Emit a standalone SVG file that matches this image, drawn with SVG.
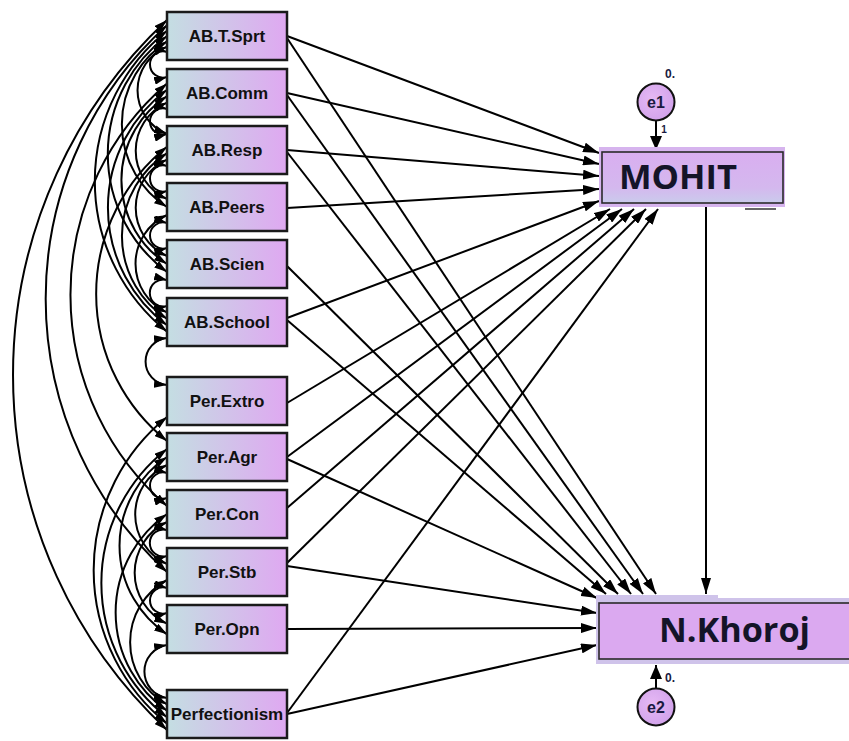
<svg xmlns="http://www.w3.org/2000/svg" width="849" height="741" viewBox="0 0 849 741">
<style>
.box{fill:url(#bg);stroke:#1a1a1a;stroke-width:2.5}
.lbl{font-family:"Liberation Sans",Arial,sans-serif;font-weight:bold;font-size:17px;fill:#111;text-anchor:middle}
.big{font-family:"Open Sans","Noto Sans",sans-serif;font-weight:bold;font-size:34px;fill:#141428}
.sm{font-family:"Liberation Sans",Arial,sans-serif;font-weight:bold;fill:#1a1a40}
.reg{stroke:#000;stroke-width:2;fill:none;marker-end:url(#ah)}
.cov{stroke:#000;stroke-width:2;fill:none;marker-start:url(#ahc);marker-end:url(#ahc)}
.err{fill:url(#eg);stroke:#111;stroke-width:2}
</style>
<defs>
<linearGradient id="bg" x1="0" y1="0" x2="1" y2="0"><stop offset="0" stop-color="#c4dee2"/><stop offset="1" stop-color="#dfa8f1"/></linearGradient>
<linearGradient id="mg" x1="0" y1="0" x2="0" y2="1"><stop offset="0" stop-color="#d9aef0"/><stop offset="0.7" stop-color="#d4b8ee"/><stop offset="1" stop-color="#cacbec"/></linearGradient>
<radialGradient id="eg" cx="0.4" cy="0.4" r="0.7"><stop offset="0" stop-color="#e6b8f4"/><stop offset="1" stop-color="#cfa0ea"/></radialGradient>
<marker id="ah" viewBox="0 0 16 10" refX="16" refY="5" markerWidth="16" markerHeight="10" markerUnits="userSpaceOnUse" orient="auto-start-reverse"><path d="M0,0 L16,5 L0,10 z" fill="#000"/></marker>
<marker id="ahc" viewBox="0 0 13 8" refX="13" refY="4" markerWidth="13" markerHeight="8" markerUnits="userSpaceOnUse" orient="auto-start-reverse"><path d="M0,0 L13,4 L0,8 z" fill="#000"/></marker>
<marker id="ahe" viewBox="0 0 14 12" refX="14" refY="6" markerWidth="14" markerHeight="12" markerUnits="userSpaceOnUse" orient="auto-start-reverse"><path d="M0,0 L14,6 L0,12 z" fill="#000"/></marker>
</defs>
<rect width="849" height="741" fill="#fff"/>

<g id="connectors">
<!-- covariances -->
<path class="cov" d="M167,52 A13.1,13.1 0 1 0 167,77"/>
<path class="cov" d="M167,46.7 A47.06,47.06 0 0 0 167,134"/>
<path class="cov" d="M167,41.3 A98.6,98.6 0 0 0 167,207"/>
<path class="cov" d="M167,36 A147.2,147.2 0 0 0 167,272"/>
<path class="cov" d="M167,30.7 A192.9,192.9 0 0 0 167,331.6"/>
<path class="cov" d="M167,25.3 A368.6,368.6 0 0 0 167,572"/>
<path class="cov" d="M167,20 A486.2,486.2 0 0 0 167,730"/>
<path class="cov" d="M167,109 A13.1,13.1 0 1 0 167,134"/>
<path class="cov" d="M167,102.6 A52.78,52.78 0 0 0 167,199"/>
<path class="cov" d="M167,96.2 A100,100 0 0 0 167,264"/>
<path class="cov" d="M167,89.8 A146.8,146.8 0 0 0 167,325.2"/>
<path class="cov" d="M167,83.4 A279.5,279.5 0 0 0 167,506"/>
<path class="cov" d="M167,166 A13.1,13.1 0 1 0 167,191"/>
<path class="cov" d="M167,159.6 A52.78,52.78 0 0 0 167,256"/>
<path class="cov" d="M167,153.2 A98.6,98.6 0 0 0 167,318.8"/>
<path class="cov" d="M167,146.8 A188.15,188.15 0 0 0 167,441"/>
<path class="cov" d="M167,223 A13.1,13.1 0 1 0 167,248"/>
<path class="cov" d="M167,215 A53.41,53.41 0 0 0 167,312.4"/>
<path class="cov" d="M167,280 A13.51,13.51 0 1 0 167,306"/>
<path class="cov" d="M167,338 A23.6,23.6 0 0 0 167,385"/>
<path class="cov" d="M167,417 A196.9,196.9 0 0 0 167,723.6"/>
<path class="cov" d="M167,473 A13.1,13.1 0 1 0 167,498"/>
<path class="cov" d="M167,465 A54.43,54.43 0 0 0 167,564"/>
<path class="cov" d="M167,457 A106.5,106.5 0 0 0 167,634.3"/>
<path class="cov" d="M167,449 A169.8,169.8 0 0 0 167,717.2"/>
<path class="cov" d="M167,530 A13.51,13.51 0 1 0 167,556"/>
<path class="cov" d="M167,522 A56.15,56.15 0 0 0 167,623.7"/>
<path class="cov" d="M167,514 A119.94,119.94 0 0 0 167,710.8"/>
<path class="cov" d="M167,588 A13.1,13.1 0 1 0 167,613"/>
<path class="cov" d="M167,580 A70.9,70.9 0 0 0 167,704.4"/>
<path class="cov" d="M167,645 A26.84,26.84 0 0 0 167,698"/>
<!-- paths to MOHIT -->
<line class="reg" x1="287" y1="36" x2="599" y2="153"/>
<line class="reg" x1="287" y1="93" x2="599" y2="164"/>
<line class="reg" x1="287" y1="150" x2="599" y2="176"/>
<line class="reg" x1="287" y1="208" x2="599" y2="189"/>
<line class="reg" x1="287" y1="318" x2="599" y2="201"/>
<line class="reg" x1="287" y1="403" x2="610" y2="209"/>
<line class="reg" x1="287" y1="457" x2="622" y2="209"/>
<line class="reg" x1="287" y1="508" x2="634" y2="209"/>
<line class="reg" x1="287" y1="563" x2="646" y2="209"/>
<line class="reg" x1="287" y1="713" x2="658" y2="209"/>
<!-- paths to N.Khoroj -->
<line class="reg" x1="287" y1="38" x2="656" y2="594"/>
<line class="reg" x1="287" y1="95" x2="643" y2="594"/>
<line class="reg" x1="287" y1="152" x2="631" y2="594"/>
<line class="reg" x1="287" y1="266" x2="618" y2="594"/>
<line class="reg" x1="287" y1="320" x2="606" y2="594"/>
<line class="reg" x1="287" y1="459" x2="597" y2="598"/>
<line class="reg" x1="287" y1="566" x2="597" y2="613"/>
<line class="reg" x1="287" y1="629" x2="597" y2="628"/>
<line class="reg" x1="287" y1="714" x2="597" y2="645"/>
<line class="reg" x1="706" y1="207" x2="706" y2="594"/>
<line stroke="#000" stroke-width="2" marker-end="url(#ahe)" x1="656" y1="121" x2="656" y2="150"/>
<line stroke="#000" stroke-width="2" marker-end="url(#ahe)" x1="656" y1="688" x2="656" y2="665"/>
</g>

<g id="AB.T.Sprt"><rect class="box" x="167" y="12" width="120" height="48"/><text class="lbl" x="227" y="42">AB.T.Sprt</text></g>
<g id="AB.Comm"><rect class="box" x="167" y="69" width="120" height="48"/><text class="lbl" x="227" y="99">AB.Comm</text></g>
<g id="AB.Resp"><rect class="box" x="167" y="126" width="120" height="48"/><text class="lbl" x="227" y="156">AB.Resp</text></g>
<g id="AB.Peers"><rect class="box" x="167" y="183" width="120" height="48"/><text class="lbl" x="227" y="213">AB.Peers</text></g>
<g id="AB.Scien"><rect class="box" x="167" y="240" width="120" height="48"/><text class="lbl" x="227" y="270">AB.Scien</text></g>
<g id="AB.School"><rect class="box" x="167" y="298" width="120" height="48"/><text class="lbl" x="227" y="328">AB.School</text></g>
<g id="Per.Extro"><rect class="box" x="167" y="377" width="120" height="48"/><text class="lbl" x="227" y="407">Per.Extro</text></g>
<g id="Per.Agr"><rect class="box" x="167" y="433" width="120" height="48"/><text class="lbl" x="227" y="463">Per.Agr</text></g>
<g id="Per.Con"><rect class="box" x="167" y="490" width="120" height="48"/><text class="lbl" x="227" y="520">Per.Con</text></g>
<g id="Per.Stb"><rect class="box" x="167" y="548" width="120" height="48"/><text class="lbl" x="227" y="578">Per.Stb</text></g>
<g id="Per.Opn"><rect class="box" x="167" y="605" width="120" height="48"/><text class="lbl" x="227" y="635">Per.Opn</text></g>
<g id="Perfectionism"><rect class="box" x="167" y="690" width="120" height="48"/><text class="lbl" x="227" y="720">Perfectionism</text></g>

<g id="MOHIT">
<rect x="599" y="147" width="186" height="60" fill="#d6b4ee"/>
<rect x="602" y="152" width="181" height="51" fill="url(#mg)" stroke="#2a2a2a" stroke-width="1.6"/>
<text class="big" x="619" y="189" textLength="118" lengthAdjust="spacingAndGlyphs">MOHIT</text>
<line x1="745" y1="209" x2="776" y2="209" stroke="#333" stroke-width="1.5"/>
</g>

<g id="N.Khoroj">
<rect x="596" y="595" width="122" height="10" fill="#cfc3ea"/>
<rect x="596" y="598" width="260" height="66" fill="#cfc3ea"/>
<rect x="599" y="603" width="260" height="56" fill="#dba9f0" stroke="#2a2a2a" stroke-width="1.6"/>
<text class="big" x="659" y="642" textLength="151" lengthAdjust="spacingAndGlyphs" font-size="35">N.Khoroj</text>
</g>

<g id="e1">
<circle class="err" cx="656" cy="102" r="18.5"/>
<text class="sm" x="656" y="108" font-size="16" text-anchor="middle">e1</text>
<text class="sm" x="670" y="78" font-size="12" text-anchor="middle">0.</text>
<text class="sm" x="664" y="133" font-size="10" text-anchor="middle">1</text>
</g>

<g id="e2">
<circle class="err" cx="656" cy="707" r="18.5"/>
<text class="sm" x="656" y="713" font-size="16" text-anchor="middle">e2</text>
<text class="sm" x="670" y="682" font-size="12" text-anchor="middle">0.</text>
</g>
</svg>
